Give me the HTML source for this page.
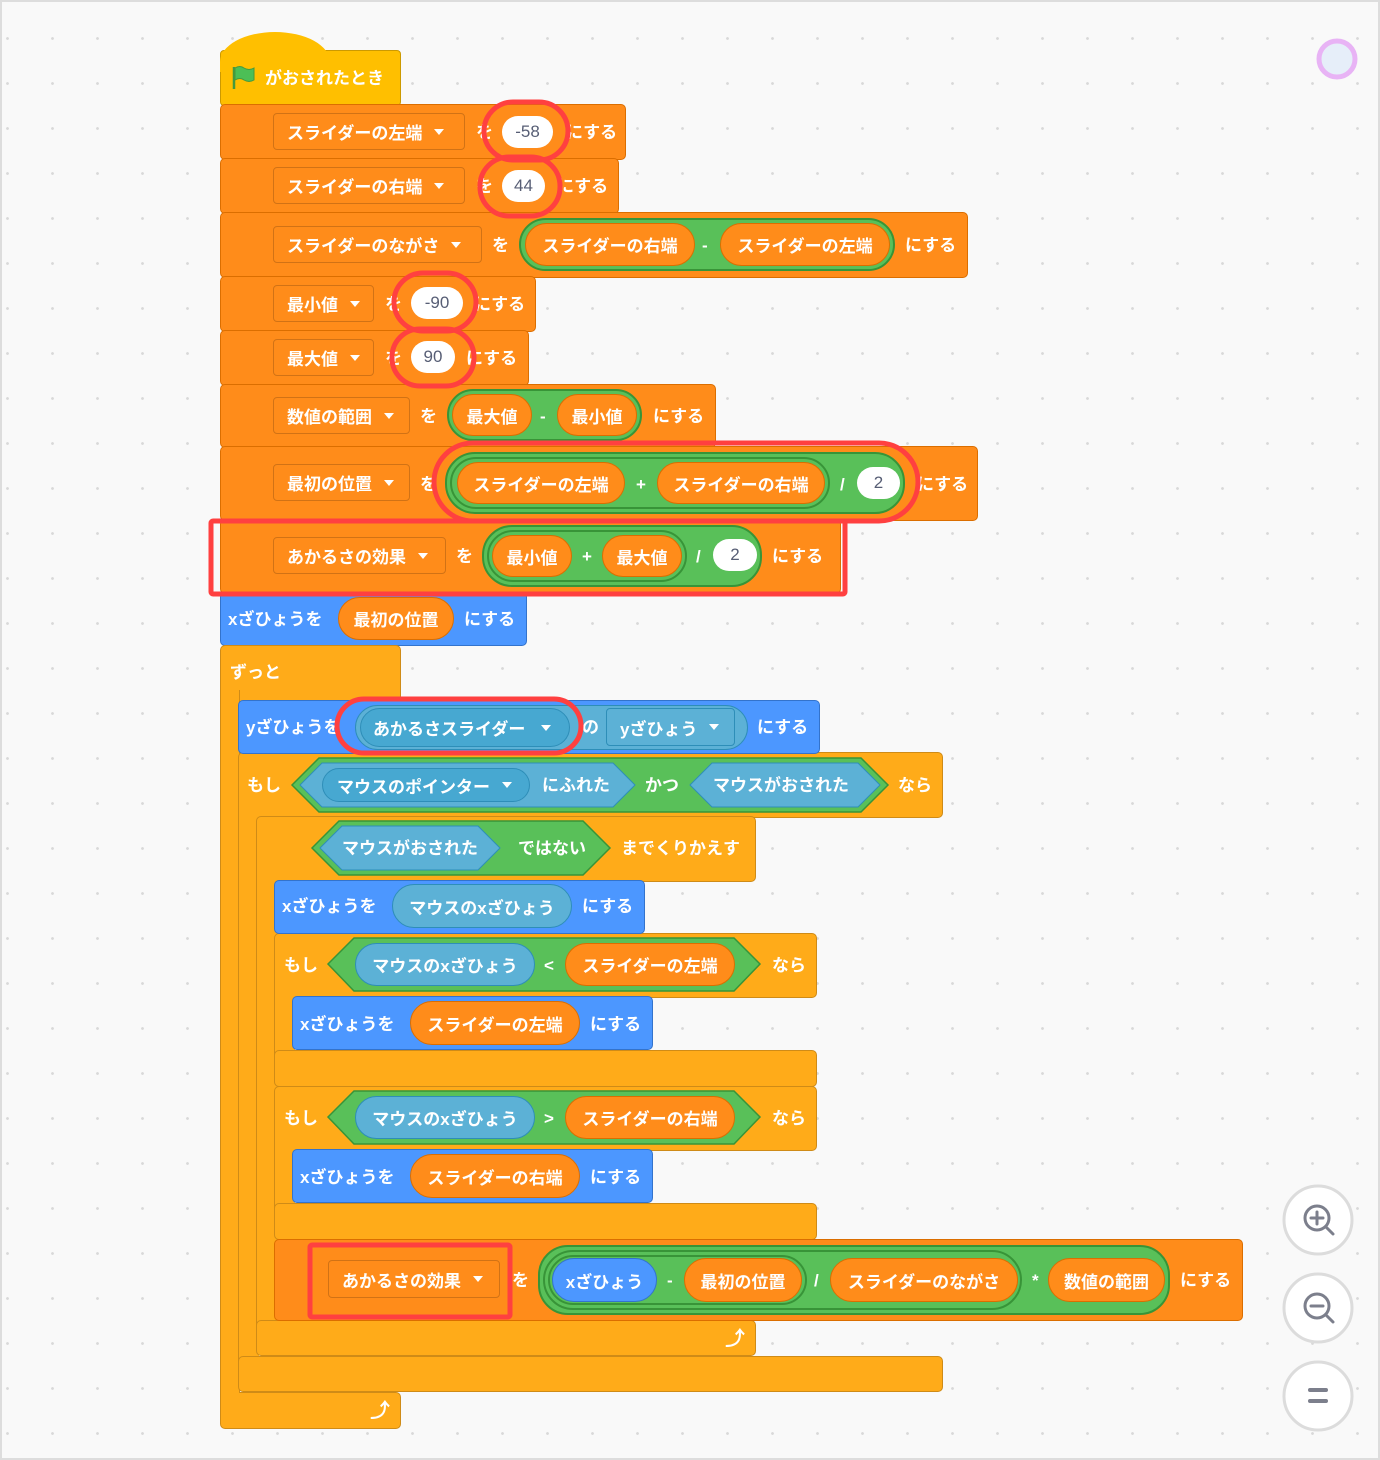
<!DOCTYPE html>
<html><head><meta charset="utf-8"><style>
html,body{margin:0;padding:0}
body{width:1380px;height:1460px;position:relative;overflow:hidden;background-color:#F9F9F9;
background-image:radial-gradient(circle,#d9d9d9 1.2px,transparent 1.6px);background-size:45px 45px;background-position:-15px 16px;
font-family:"Liberation Sans","Noto Sans CJK JP",sans-serif;}
.frame{position:absolute;left:0;top:0;width:1376px;height:1456px;border:2px solid #ddd;pointer-events:none}
.b{position:absolute;box-sizing:border-box;border-radius:5px}
.V{background:#FF8C1A;border:1px solid #DB6E00}
.C{background:#FFAB19;border:1px solid #CF8B17}
.E{background:#FFBF00;border:1px solid #CC9900}
.M{background:#4C97FF;border:1px solid #3373CC}
.t{position:absolute;color:#fff;font-weight:bold;font-size:17px;line-height:22px;white-space:nowrap;margin-top:2px}
.p{position:absolute;box-sizing:border-box;border-radius:30px;display:flex;align-items:center;justify-content:center;color:#fff;font-weight:bold;font-size:17px;white-space:nowrap}
.po{background:#FF8C1A;border:1px solid #DB6E00}
.pg{background:#59C059;border:2px solid #389438}
.ps{background:#5CB1D6;border:1px solid #2E8EB8}
.pm{background:#4C97FF;border:1px solid #3373CC}
.pw{background:#fff;color:#575E75;font-weight:normal;border:none}
.dd{position:absolute;box-sizing:border-box;border-radius:4px;border:1px solid rgba(0,0,0,.18);display:flex;align-items:center;padding-left:13px;color:#fff;font-weight:bold;font-size:17px;white-space:nowrap}
.tri{display:inline-block;width:0;height:0;border-left:5px solid transparent;border-right:5px solid transparent;border-top:6px solid #fff;margin-left:12px}
svg{position:absolute;left:0;top:0}
</style></head><body>

<!-- hat -->
<div class="b E" style="left:220px;top:50px;width:181px;height:56px;border-radius:4px"></div>
<div style="position:absolute;left:220px;top:32px;width:110px;height:40px;background:#FFBF00;border-radius:55px 55px 0 0/30px 30px 0 0"></div>
<svg width="30" height="30" style="left:230px;top:64px"><path d="M4 3 V25" stroke="#45993D" stroke-width="2.5"/><path d="M5 4 Q10 1 14 4 Q19 7 24 4 V16 Q19 19 14 16 Q10 13 5 16Z" fill="#4CBF56" stroke="#45993D" stroke-width="1"/></svg>
<div class="t" style="left:265px;top:66px">がおされたとき</div>

<!-- set blocks -->
<div class="b V" style="left:220px;top:104px;width:406px;height:56px"></div>
<div class="dd" style="left:273px;top:113px;width:192px;height:37px">スライダーの左端<span class="tri"></span></div>
<div class="t" style="left:476px;top:120px">を</div>
<div class="p pw" style="left:502px;top:116px;width:51px;height:32px">-58</div>
<div class="t" style="left:566px;top:120px">にする</div>

<div class="b V" style="left:220px;top:158px;width:399px;height:56px"></div>
<div class="dd" style="left:273px;top:167px;width:192px;height:37px">スライダーの右端<span class="tri"></span></div>
<div class="t" style="left:476px;top:174px">を</div>
<div class="p pw" style="left:502px;top:170px;width:43px;height:32px">44</div>
<div class="t" style="left:557px;top:174px">にする</div>

<div class="b V" style="left:220px;top:212px;width:748px;height:66px"></div>
<div class="dd" style="left:273px;top:226px;width:209px;height:37px">スライダーのながさ<span class="tri"></span></div>
<div class="t" style="left:492px;top:233px">を</div>
<div class="p pg" style="left:519px;top:218px;width:376px;height:53px"></div>
<div class="p po" style="left:525px;top:223px;width:170px;height:43px">スライダーの右端</div>
<div class="t" style="left:702px;top:233px">-</div>
<div class="p po" style="left:720px;top:223px;width:170px;height:43px">スライダーの左端</div>
<div class="t" style="left:905px;top:233px">にする</div>

<div class="b V" style="left:220px;top:276px;width:316px;height:56px"></div>
<div class="dd" style="left:273px;top:285px;width:101px;height:37px">最小値<span class="tri"></span></div>
<div class="t" style="left:385px;top:292px">を</div>
<div class="p pw" style="left:411px;top:287px;width:52px;height:32px">-90</div>
<div class="t" style="left:474px;top:292px">にする</div>

<div class="b V" style="left:220px;top:330px;width:309px;height:56px"></div>
<div class="dd" style="left:273px;top:339px;width:101px;height:37px">最大値<span class="tri"></span></div>
<div class="t" style="left:385px;top:346px">を</div>
<div class="p pw" style="left:411px;top:341px;width:44px;height:32px">90</div>
<div class="t" style="left:466px;top:346px">にする</div>

<div class="b V" style="left:220px;top:384px;width:496px;height:64px"></div>
<div class="dd" style="left:273px;top:397px;width:137px;height:37px">数値の範囲<span class="tri"></span></div>
<div class="t" style="left:420px;top:404px">を</div>
<div class="p pg" style="left:447px;top:389px;width:195px;height:52px"></div>
<div class="p po" style="left:452px;top:394px;width:80px;height:42px">最大値</div>
<div class="t" style="left:540px;top:404px">-</div>
<div class="p po" style="left:557px;top:394px;width:80px;height:42px">最小値</div>
<div class="t" style="left:653px;top:404px">にする</div>

<div class="b V" style="left:220px;top:446px;width:758px;height:75px"></div>
<div class="dd" style="left:273px;top:464px;width:137px;height:37px">最初の位置<span class="tri"></span></div>
<div class="t" style="left:420px;top:472px">を</div>
<div class="p pg" style="left:445px;top:452px;width:460px;height:62px"></div>
<div class="p pg" style="left:450px;top:457px;width:380px;height:52px"></div>
<div class="p po" style="left:457px;top:462px;width:168px;height:42px">スライダーの左端</div>
<div class="t" style="left:636px;top:472px">+</div>
<div class="p po" style="left:657px;top:462px;width:168px;height:42px">スライダーの右端</div>
<div class="t" style="left:840px;top:472px">/</div>
<div class="p pw" style="left:857px;top:467px;width:43px;height:32px">2</div>
<div class="t" style="left:917px;top:472px">にする</div>

<div class="b V" style="left:220px;top:519px;width:621px;height:75px"></div>
<div class="dd" style="left:273px;top:537px;width:173px;height:37px">あかるさの効果<span class="tri"></span></div>
<div class="t" style="left:456px;top:544px">を</div>
<div class="p pg" style="left:482px;top:525px;width:280px;height:62px"></div>
<div class="p pg" style="left:487px;top:530px;width:200px;height:52px"></div>
<div class="p po" style="left:492px;top:535px;width:80px;height:42px">最小値</div>
<div class="t" style="left:582px;top:544px">+</div>
<div class="p po" style="left:602px;top:535px;width:80px;height:42px">最大値</div>
<div class="t" style="left:696px;top:544px">/</div>
<div class="p pw" style="left:713px;top:539px;width:44px;height:32px">2</div>
<div class="t" style="left:772px;top:544px">にする</div>

<div class="b M" style="left:220px;top:592px;width:307px;height:54px"></div>
<div class="t" style="left:228px;top:607px">xざひょうを</div>
<div class="p po" style="left:338px;top:597px;width:116px;height:43px">最初の位置</div>
<div class="t" style="left:464px;top:607px">にする</div>

<!-- forever -->
<div class="b C" style="left:220px;top:645px;width:181px;height:60px"></div>
<div class="b C" style="left:220px;top:690px;width:20px;height:720px;border-radius:0"></div>
<div class="b C" style="left:220px;top:1392px;width:181px;height:37px"></div>
<div style="position:absolute;left:221px;top:690px;width:18px;height:720px;background:#FFAB19"></div>
<div class="t" style="left:230px;top:660px">ずっと</div>
<div class="t" style="left:370px;top:1398px;font-size:20px">⤴</div>

<!-- if outer -->
<div class="b C" style="left:238px;top:752px;width:705px;height:66px"></div>
<div style="position:absolute;left:238px;top:800px;width:20px;height:570px;background:#FFAB19;border-left:1px solid #CF8B17"></div>
<div class="b C" style="left:238px;top:1356px;width:705px;height:36px"></div>

<!-- repeat -->
<div class="b C" style="left:256px;top:816px;width:500px;height:66px"></div>
<div style="position:absolute;left:256px;top:870px;width:20px;height:460px;background:#FFAB19;border-left:1px solid #CF8B17"></div>
<div class="b C" style="left:256px;top:1320px;width:500px;height:36px"></div>
<div class="t" style="left:725px;top:1326px;font-size:20px">⤴</div>

<!-- if1 -->
<div class="b C" style="left:274px;top:933px;width:543px;height:65px"></div>
<div style="position:absolute;left:274px;top:990px;width:20px;height:70px;background:#FFAB19;border-left:1px solid #CF8B17"></div>
<div class="b C" style="left:274px;top:1050px;width:543px;height:37px"></div>
<!-- if2 -->
<div class="b C" style="left:274px;top:1086px;width:543px;height:65px"></div>
<div style="position:absolute;left:274px;top:1140px;width:20px;height:70px;background:#FFAB19;border-left:1px solid #CF8B17"></div>
<div class="b C" style="left:274px;top:1203px;width:543px;height:37px"></div>

<!-- y set -->
<div class="b M" style="left:238px;top:700px;width:582px;height:54px"></div>
<div class="t" style="left:246px;top:715px">yざひょうを</div>
<div class="p ps" style="left:355px;top:705px;width:393px;height:45px"></div>
<div class="p" style="left:360px;top:708px;width:210px;height:39px;background:#47A8D1;border:1px solid #2E8EB8;justify-content:flex-start;padding-left:12px">あかるさスライダー<span class="tri" style="margin-left:16px"></span></div>
<div class="t" style="left:582px;top:715px">の</div>
<div class="dd" style="left:606px;top:708px;width:129px;height:38px;border-color:#2E8EB8">yざひょう<span class="tri"></span></div>
<div class="t" style="left:757px;top:715px">にする</div>

<!-- x set in repeat -->
<div class="b M" style="left:274px;top:880px;width:371px;height:54px"></div>
<div class="t" style="left:282px;top:894px">xざひょうを</div>
<div class="p ps" style="left:392px;top:884px;width:180px;height:44px">マウスのxざひょう</div>
<div class="t" style="left:582px;top:894px">にする</div>

<div class="b M" style="left:292px;top:996px;width:361px;height:54px"></div>
<div class="t" style="left:300px;top:1012px">xざひょうを</div>
<div class="p po" style="left:410px;top:1001px;width:170px;height:44px">スライダーの左端</div>
<div class="t" style="left:590px;top:1012px">にする</div>

<div class="b M" style="left:292px;top:1149px;width:361px;height:54px"></div>
<div class="t" style="left:300px;top:1165px">xざひょうを</div>
<div class="p po" style="left:410px;top:1154px;width:170px;height:44px">スライダーの右端</div>
<div class="t" style="left:590px;top:1165px">にする</div>

<!-- set9 -->
<div class="b V" style="left:274px;top:1239px;width:969px;height:82px"></div>
<div class="dd" style="left:328px;top:1260px;width:172px;height:38px">あかるさの効果<span class="tri"></span></div>
<div class="t" style="left:512px;top:1268px">を</div>
<div class="p pg" style="left:538px;top:1245px;width:632px;height:70px"></div>
<div class="p pg" style="left:543px;top:1250px;width:479px;height:60px"></div>
<div class="p pg" style="left:548px;top:1255px;width:259px;height:50px"></div>
<div class="p pm" style="left:552px;top:1258px;width:105px;height:44px">xざひょう</div>
<div class="t" style="left:667px;top:1268px">-</div>
<div class="p po" style="left:684px;top:1258px;width:118px;height:44px">最初の位置</div>
<div class="t" style="left:814px;top:1268px">/</div>
<div class="p po" style="left:830px;top:1258px;width:188px;height:44px">スライダーのながさ</div>
<div class="t" style="left:1032px;top:1268px">*</div>
<div class="p po" style="left:1048px;top:1258px;width:117px;height:44px">数値の範囲</div>
<div class="t" style="left:1180px;top:1268px">にする</div>

<!-- hexagons -->
<svg width="1380" height="1460">
<polygon points="292,785 319,758 861,758 888,785 861,812 319,812" fill="#59C059" stroke="#389438" stroke-width="1.5"/>
<polygon points="300,785 322,763 613,763 635,785 613,807 322,807" fill="#5CB1D6" stroke="#2E8EB8"/>
<polygon points="690,785 712,763 858,763 880,785 858,807 712,807" fill="#5CB1D6" stroke="#2E8EB8"/>
<polygon points="312,848 339,821 583,821 610,848 583,875 339,875" fill="#59C059" stroke="#389438" stroke-width="1.5"/>
<polygon points="320,848 342,826 478,826 500,848 478,870 342,870" fill="#5CB1D6" stroke="#2E8EB8"/>
<polygon points="328,964 354,938 734,938 760,964 734,991 354,991" fill="#59C059" stroke="#389438" stroke-width="1.5"/>
<polygon points="328,1117 354,1091 734,1091 760,1117 734,1144 354,1144" fill="#59C059" stroke="#389438" stroke-width="1.5"/>
</svg>
<div class="t" style="left:247px;top:773px">もし</div>
<div class="p" style="left:322px;top:768px;width:208px;height:34px;background:#47A8D1;border:1px solid #2E8EB8;justify-content:flex-start;padding-left:14px">マウスのポインター<span class="tri"></span></div>
<div class="t" style="left:542px;top:773px">にふれた</div>
<div class="t" style="left:645px;top:773px">かつ</div>
<div class="t" style="left:713px;top:773px">マウスがおされた</div>
<div class="t" style="left:898px;top:773px">なら</div>
<div class="t" style="left:342px;top:836px">マウスがおされた</div>
<div class="t" style="left:518px;top:836px">ではない</div>
<div class="t" style="left:621px;top:836px">までくりかえす</div>

<div class="t" style="left:284px;top:953px">もし</div>
<div class="p ps" style="left:355px;top:943px;width:180px;height:43px">マウスのxざひょう</div>
<div class="t" style="left:544px;top:953px">&lt;</div>
<div class="p po" style="left:565px;top:943px;width:170px;height:43px">スライダーの左端</div>
<div class="t" style="left:772px;top:953px">なら</div>

<div class="t" style="left:284px;top:1106px">もし</div>
<div class="p ps" style="left:355px;top:1096px;width:180px;height:43px">マウスのxざひょう</div>
<div class="t" style="left:544px;top:1106px">&gt;</div>
<div class="p po" style="left:565px;top:1096px;width:170px;height:43px">スライダーの右端</div>
<div class="t" style="left:772px;top:1106px">なら</div>

<!-- red highlights & UI -->
<svg width="1380" height="1460">
<g fill="none" stroke="#FF4040" stroke-width="5">
<rect x="484" y="102" width="84" height="58" rx="29"/>
<rect x="480" y="157" width="80" height="59" rx="29"/>
<rect x="394" y="273" width="82" height="58" rx="29"/>
<rect x="392" y="329" width="82" height="57" rx="28"/>
<rect x="434" y="443" width="484" height="78" rx="39"/>
<rect x="211" y="521" width="634" height="73" rx="2"/>
<rect x="337" y="699" width="244" height="54" rx="27"/>
<rect x="310" y="1245" width="200" height="72" rx="2"/>
</g>
<circle cx="1337" cy="59" r="18" fill="#E6EEF9" stroke="#E8B3F5" stroke-width="5"/>
<g fill="#fff" stroke="#dcdcdc" stroke-width="3">
<circle cx="1318" cy="1220" r="34"/><circle cx="1318" cy="1308" r="34"/><circle cx="1318" cy="1396" r="34"/>
</g>
<g fill="none" stroke="#7c7f8c" stroke-width="3" stroke-linecap="round">
<circle cx="1317" cy="1218" r="12"/><path d="M1326 1227 L1333 1234 M1311 1218 H1323 M1317 1212 V1224"/>
<circle cx="1317" cy="1306" r="12"/><path d="M1326 1315 L1333 1322 M1311 1306 H1323"/>
</g>
<g stroke="#7c7f8c" stroke-width="4" stroke-linecap="round"><path d="M1310 1390 H1326 M1310 1401 H1326"/></g>
</svg>
<div class="frame"></div>
</body></html>
